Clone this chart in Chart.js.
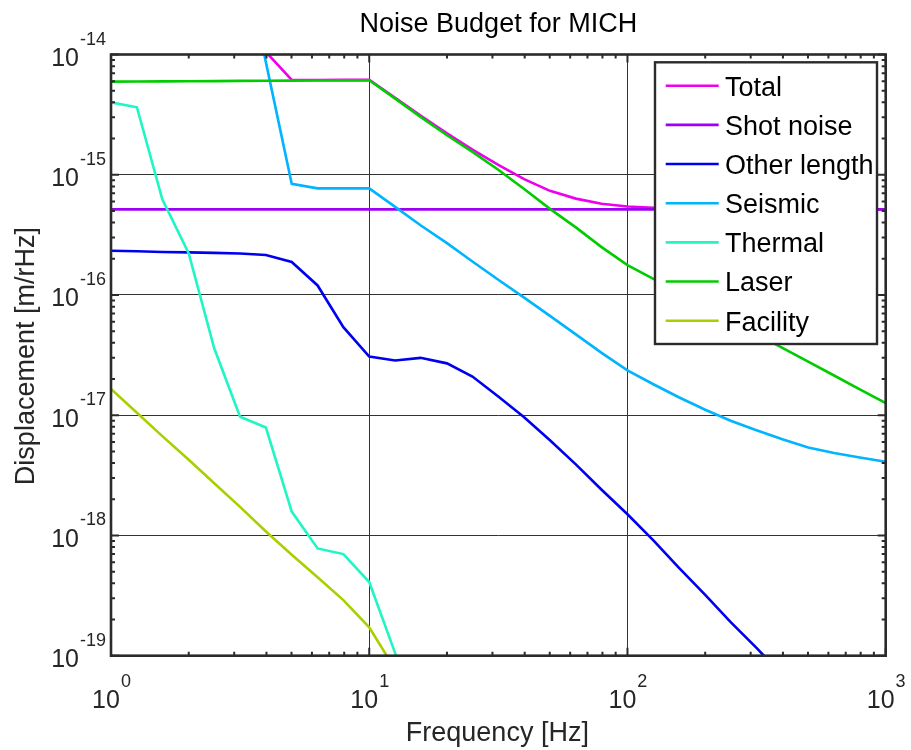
<!DOCTYPE html>
<html lang="en">
<head>
<meta charset="UTF-8">
<title>Noise Budget for MICH</title>
<script src="https://cdn.jsdelivr.net/npm/chart.js@4.4.0/dist/chart.umd.min.js"></script>
<style>
    html, body { margin: 0; padding: 0; background: #fff; }
    #wrap { width: 911px; height: 750px; }
</style>
</head>
<body>
<div id="wrap"><canvas id="noiseChart" width="911" height="750"></canvas></div>
<script>
// frequency grid, 10 points per decade [Hz]
const freqHz = [1, 1.26, 1.58, 2, 2.51, 3.16, 3.98, 5.01, 6.31, 7.94,
    10, 12.6, 15.8, 20, 25.1, 31.6, 39.8, 50.1, 63.1, 79.4,
    100, 126, 158, 200, 251, 316, 398, 501, 631, 794, 1000];

// displacement noise [m/rHz], null = not plotted
const totalNoise = [null, null, null, null, null, 1.0e-13, 1.05e-14, 6.14e-15, 6.14e-15, 6.15e-15,
    6.17e-15, 4.37e-15, 3.10e-15, 2.21e-15, 1.62e-15, 1.21e-15, 9.2e-16, 7.35e-16, 6.33e-16, 5.73e-16,
    5.45e-16, 5.32e-16, 5.25e-16, 5.21e-16, 5.19e-16, 5.17e-16, 5.16e-16, 5.16e-16, 5.15e-16, 5.15e-16, 5.15e-16];
const shotNoise = [5.15e-16, 5.15e-16, 5.15e-16, 5.15e-16, 5.15e-16, 5.15e-16, 5.15e-16, 5.15e-16, 5.15e-16, 5.15e-16,
    5.15e-16, 5.15e-16, 5.15e-16, 5.15e-16, 5.15e-16, 5.15e-16, 5.15e-16, 5.15e-16, 5.15e-16, 5.15e-16,
    5.15e-16, 5.15e-16, 5.15e-16, 5.15e-16, 5.15e-16, 5.15e-16, 5.15e-16, 5.15e-16, 5.15e-16, 5.15e-16, 5.15e-16];
const otherLength = [2.33e-16, 2.31e-16, 2.28e-16, 2.26e-16, 2.24e-16, 2.21e-16, 2.15e-16, 1.88e-16, 1.2e-16, 5.4e-17,
    3.07e-17, 2.85e-17, 3.0e-17, 2.7e-17, 2.1e-17, 1.43e-17, 9.6e-18, 6.2e-18, 3.9e-18, 2.4e-18,
    1.5e-18, 9.1e-19, 5.4e-19, 3.2e-19, 1.9e-19, 1.16e-19, 6.9e-20, null, null, null, null];
const seismic = [null, null, null, null, null, 1.0e-13, 8.6e-15, 8.4e-16, 7.7e-16, 7.7e-16,
    7.7e-16, 5.4e-16, 3.8e-16, 2.7e-16, 1.9e-16, 1.34e-16, 9.5e-17, 6.7e-17, 4.7e-17, 3.3e-17,
    2.36e-17, 1.81e-17, 1.41e-17, 1.11e-17, 9.0e-18, 7.5e-18, 6.3e-18, 5.4e-18, 4.85e-18, 4.45e-18, 4.1e-18];
const thermal = [4.0e-15, 3.64e-15, 6.25e-16, 2.22e-16, 3.6e-17, 9.7e-18, 7.9e-18, 1.58e-18, 7.8e-19, 7.0e-19,
    4.1e-19, 1.05e-19, 2.5e-20, null, null, null, null, null, null, null,
    null, null, null, null, null, null, null, null, null, null, null];
const laser = [5.95e-15, 5.97e-15, 5.98e-15, 6.0e-15, 6.01e-15, 6.03e-15, 6.05e-15, 6.06e-15, 6.07e-15, 6.09e-15,
    6.1e-15, 4.3e-15, 3.03e-15, 2.13e-15, 1.55e-15, 1.1e-15, 7.6e-16, 5.2e-16, 3.65e-16, 2.5e-16,
    1.77e-16, 1.36e-16, 1.04e-16, 8.0e-17, 6.15e-17, 4.72e-17, 3.63e-17, 2.79e-17, 2.14e-17, 1.64e-17, 1.26e-17];
const facility = [1.65e-17, 1.05e-17, 6.7e-18, 4.27e-18, 2.72e-18, 1.73e-18, 1.08e-18, 6.9e-19, 4.5e-19, 2.9e-19,
    1.72e-19, 7.7e-20, null, null, null, null, null, null, null, null,
    null, null, null, null, null, null, null, null, null, null, null];

const seriesNames = ['Total', 'Shot noise', 'Other length', 'Seismic', 'Thermal', 'Laser', 'Facility'];
const seriesValues = [totalNoise, shotNoise, otherLength, seismic, thermal, laser, facility];
const seriesColors = ['#ee00ee', '#9f00f5', '#0000f0', '#00b4ff', '#20f5c5', '#00cc00', '#a8d000'];

// decade ticks and their exponents
const xDecades = [1, 10, 100, 1000];
const xExponents = ['0', '1', '2', '3'];
const yDecades = [1e-19, 1e-18, 1e-17, 1e-16, 1e-15, 1e-14];
const yExponents = ['-19', '-18', '-17', '-16', '-15', '-14'];

const FONT = '"Liberation Sans", Arial, Helvetica, sans-serif';
const AXIS_COLOR = '#2b2b2b';
const LINE_WIDTH = 2.6;

function toPoints(vals) {
    const pts = [];
    vals.forEach(function (v, i) {
        if (v !== null) pts.push({ x: freqHz[i], y: v });
    });
    return pts;
}

// minor tick positions (2..9 within each decade)
function minorValues(decades) {
    const out = [];
    for (let d = 0; d < decades.length - 1; d++) {
        for (let k = 2; k <= 9; k++) out.push(decades[d] * k);
    }
    return out;
}

// axes box, inward ticks, 10^n labels, titles and legend box
const matlabAxes = {
    id: 'matlabAxes',
    afterDraw(chart) {
        const ctx = chart.ctx;
        const ca = chart.chartArea;
        const xs = chart.scales.x;
        const ys = chart.scales.y;
        ctx.save();

        // ticks on all four sides
        ctx.strokeStyle = AXIS_COLOR;
        ctx.lineWidth = 2;
        ctx.beginPath();
        const xTicks = minorValues(xDecades).map(v => [v, 4]).concat(xDecades.map(v => [v, 8]));
        xTicks.forEach(function (t) {
            const px = xs.getPixelForValue(t[0]);
            ctx.moveTo(px, ca.bottom); ctx.lineTo(px, ca.bottom - t[1]);
            ctx.moveTo(px, ca.top); ctx.lineTo(px, ca.top + t[1]);
        });
        const yTicks = minorValues(yDecades).map(v => [v, 4]).concat(yDecades.map(v => [v, 8]));
        yTicks.forEach(function (t) {
            const py = ys.getPixelForValue(t[0]);
            ctx.moveTo(ca.left, py); ctx.lineTo(ca.left + t[1], py);
            ctx.moveTo(ca.right, py); ctx.lineTo(ca.right - t[1], py);
        });
        ctx.stroke();

        // box
        ctx.lineWidth = 2.6;
        ctx.strokeRect(ca.left, ca.top, ca.right - ca.left, ca.bottom - ca.top);

        // tick labels as 10 with a raised exponent
        const baseFont = '25px ' + FONT;
        const expFont = '18px ' + FONT;
        ctx.fillStyle = '#262626';
        ctx.textBaseline = 'alphabetic';
        ctx.textAlign = 'left';
        xDecades.forEach(function (v, i) {
            const px = xs.getPixelForValue(v);
            ctx.font = baseFont;
            const wb = ctx.measureText('10').width;
            ctx.font = expFont;
            const we = ctx.measureText(xExponents[i]).width;
            const x0 = px - (wb + we) / 2;
            ctx.font = baseFont;
            ctx.fillText('10', x0, ca.bottom + 52.6);
            ctx.font = expFont;
            ctx.fillText(xExponents[i], x0 + wb + 1, ca.bottom + 31);
        });
        yDecades.forEach(function (v, i) {
            const py = ys.getPixelForValue(v);
            const right = ca.left - 5;
            ctx.font = expFont;
            const we = ctx.measureText(yExponents[i]).width;
            ctx.fillText(yExponents[i], right - we, py - 10);
            ctx.font = baseFont;
            const wb = ctx.measureText('10').width;
            ctx.fillText('10', right - we - 1 - wb, py + 11.5);
        });

        // titles
        ctx.fillStyle = '#000';
        ctx.font = '27px ' + FONT;
        ctx.textAlign = 'center';
        const midX = (ca.left + ca.right) / 2;
        ctx.fillText('Noise Budget for MICH', midX, 32);
        ctx.fillStyle = '#262626';
        ctx.fillText('Frequency [Hz]', midX - 1, 741);
        ctx.save();
        ctx.translate(33.5, (ca.top + ca.bottom) / 2 + 1);
        ctx.rotate(-Math.PI / 2);
        ctx.fillText('Displacement [m/rHz]', 0, 0);
        ctx.restore();

        // legend
        const lx = 655, ly = 62.3, lw = 222, lh = 281.7;
        ctx.fillStyle = '#fff';
        ctx.fillRect(lx, ly, lw, lh);
        ctx.strokeStyle = AXIS_COLOR;
        ctx.lineWidth = 2.4;
        ctx.strokeRect(lx, ly, lw, lh);
        ctx.textAlign = 'left';
        ctx.font = '27px ' + FONT;
        seriesNames.forEach(function (name, i) {
            const y = 85.7 + 39.17 * i;
            ctx.strokeStyle = seriesColors[i];
            ctx.lineWidth = LINE_WIDTH;
            ctx.beginPath();
            ctx.moveTo(lx + 10.7, y);
            ctx.lineTo(lx + 63.7, y);
            ctx.stroke();
            ctx.fillStyle = '#000';
            ctx.fillText(name, lx + 70, y + 9.8);
        });
        ctx.restore();
    }
};

const datasets = seriesNames.map(function (name, i) {
    return {
        label: name,
        data: toPoints(seriesValues[i]),
        borderColor: seriesColors[i],
        backgroundColor: seriesColors[i],
        borderWidth: LINE_WIDTH,
        pointRadius: 0,
        tension: 0,
        fill: false,
        clip: 0,
        order: -i   // later series drawn on top
    };
});

const gridColor = '#333';

new Chart(document.getElementById('noiseChart'), {
    type: 'line',
    data: { datasets: datasets },
    options: {
        responsive: false,
        animation: false,
        devicePixelRatio: 1,
        layout: { padding: { left: 111, top: 54.5, right: 25.3, bottom: 94.3 } },
        plugins: {
            legend: { display: false },
            title: { display: false },
            tooltip: { enabled: false }
        },
        scales: {
            x: {
                type: 'logarithmic',
                min: 1,
                max: 1000,
                ticks: { display: false },
                grid: { color: gridColor, lineWidth: 1, drawTicks: false },
                border: { display: false },
                afterBuildTicks: function (scale) {
                    scale.ticks = xDecades.map(v => ({ value: v }));
                }
            },
            y: {
                type: 'logarithmic',
                min: 1e-19,
                max: 1e-14,
                ticks: { display: false },
                grid: { color: gridColor, lineWidth: 1, drawTicks: false },
                border: { display: false },
                afterBuildTicks: function (scale) {
                    scale.ticks = yDecades.map(v => ({ value: v }));
                }
            }
        }
    },
    plugins: [matlabAxes]
});
</script>
</body>
</html>
